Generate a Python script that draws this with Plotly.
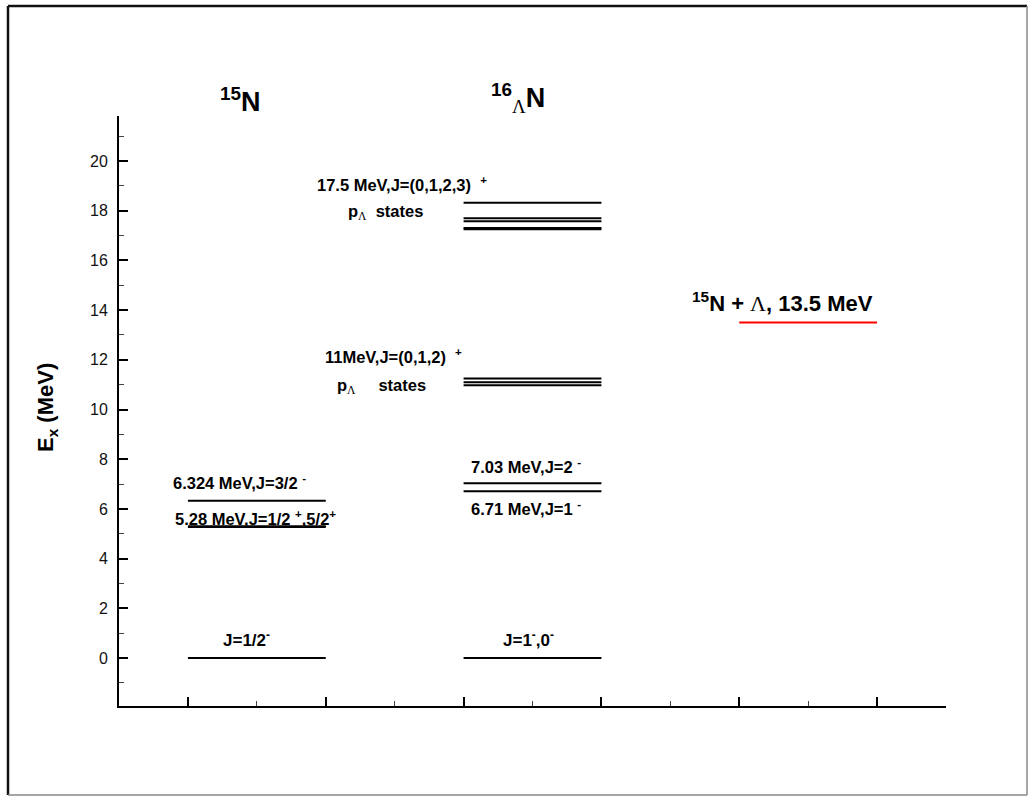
import plotly.graph_objects as go

# ---- data ----
n15_levels = [0.0, 5.27, 5.30, 6.324]                       # 15N levels (MeV)
hyp_levels = [0.0, 6.71, 7.03, 10.98, 11.10, 11.25,
              17.25, 17.30, 17.58, 17.70, 18.32]            # 16_Lambda N levels (MeV)
threshold_levels = [13.5]                                    # 15N + Lambda threshold
y_ticks = [0, 2, 4, 6, 8, 10, 12, 14, 16, 18, 20]
x_major = [1, 2, 3, 4, 5, 6]
x_minor = [1.5, 2.5, 3.5, 4.5, 5.5]

# column spans (x from, x to)
n15_span = (1, 2)
hyp_span = (3, 4)
thr_span = (5, 6)

W_FIG, H_FIG = 1036, 802
L, R, T, B = 119, 946, 116, 706
PW, PH = R - L, B - T


def segs(levels, span):
    xs, ys = [], []
    for v in levels:
        xs += [span[0], span[1], None]
        ys += [v, v, None]
    return xs, ys


fig = go.Figure()
for levels, span, color in [(n15_levels, n15_span, "black"),
                            (hyp_levels, hyp_span, "black"),
                            (threshold_levels, thr_span, "#ff0000")]:
    xs, ys = segs(levels, span)
    fig.add_trace(go.Scatter(x=xs, y=ys, mode="lines",
                             line=dict(color=color, width=2),
                             hoverinfo="skip", showlegend=False))


def px(xp, yp):
    return (xp - L) / PW, (B - yp) / PH


FONT = "Liberation Sans, Arial, sans-serif"
NARROW = "Liberation Sans Narrow, Arial Narrow, Liberation Sans, sans-serif"
annots = []


def ann(text, xp, yp, size, xanchor="center", yanchor="middle", angle=0,
        family=FONT):
    x, y = px(xp, yp)
    annots.append(dict(text="<b>%s</b>" % text,
                       x=x, y=y, xref="paper", yref="paper",
                       xanchor=xanchor, yanchor=yanchor, showarrow=False,
                       textangle=angle,
                       font=dict(family=family, size=size, color="black")))


LAM = "<span style=\"font-family:'Liberation Serif',serif;font-weight:normal\">Λ</span>"
NB = "\u00a0"

ann("<sup>15</sup>N", 240, 100, 27)
ann("<sup>16</sup><sub>" + LAM + "</sub>N", 518, 98, 27)
ann("17.5 MeV,J=(0,1,2,3) " + NB + "<sup>+</sup>", 402, 184, 16.5)
ann("p<sub>" + LAM + "</sub>" + NB * 2 + "states", 385, 212, 16.5)
ann("11MeV,J=(0,1,2) " + NB + "<sup>+</sup>", 393, 356, 16.5)
ann("p<sub>" + LAM + "</sub>" + NB * 5 + "states", 381, 386, 16.5)
ann("6.324 MeV,J=3/2 <sup>-</sup>", 308, 482, 16.5, xanchor="right")
ann("5.28 MeV,J=1/2 <sup>+</sup>,5/2<sup>+</sup>", 338, 518, 16.5, xanchor="right")
ann("7.03 MeV,J=2 <sup>-</sup>", 526, 466, 16.5)
ann("6.71 MeV,J=1 <sup>-</sup>", 526, 508, 16.5)
ann("J=1/2<sup>-</sup>", 246, 639, 17, family=NARROW)
ann("J=1<sup>-</sup>,0<sup>-</sup>", 528, 639, 17, family=NARROW)
ann("<sup>15</sup>N + " + LAM + ", 13.5 MeV", 782, 302, 22)
ann("E<sub>x</sub> (MeV)", 47, 408, 22, angle=-90)

# frame: dark left/top, lighter right/bottom
fx0, fy0 = px(8, 6)
fx1, fy1 = px(1027, 795)
frame = [
    dict(type="line", xref="paper", yref="paper", x0=fx0, y0=fy0, x1=fx0, y1=fy1,
         line=dict(color="#111", width=2.5)),
    dict(type="line", xref="paper", yref="paper", x0=fx0, y0=fy0, x1=fx1, y1=fy0,
         line=dict(color="#111", width=2.5)),
    dict(type="line", xref="paper", yref="paper", x0=fx1, y0=fy0, x1=fx1, y1=fy1,
         line=dict(color="#888", width=1.5)),
    dict(type="line", xref="paper", yref="paper", x0=fx0, y0=fy1, x1=fx1, y1=fy1,
         line=dict(color="#888", width=1.5)),
]

fig.update_layout(
    width=W_FIG, height=H_FIG,
    margin=dict(l=L, r=W_FIG - R, t=T, b=H_FIG - B, pad=0),
    paper_bgcolor="white", plot_bgcolor="white",
    showlegend=False,
    annotations=annots,
    shapes=frame,
    xaxis=dict(range=[0.5, 6.5], showgrid=False, zeroline=False,
               showline=True, linecolor="black", linewidth=2,
               ticks="inside", tickvals=x_major, ticklen=9, tickwidth=1.5,
               tickcolor="black", showticklabels=False,
               minor=dict(tickvals=x_minor, ticks="inside", ticklen=5,
                          tickwidth=1, tickcolor="#444")),
    yaxis=dict(range=[-1.93, 21.81], showgrid=False, zeroline=False,
               showline=True, linecolor="black", linewidth=2,
               ticks="inside", tickvals=y_ticks, ticktext=[str(v) for v in y_ticks],
               ticklen=9, tickwidth=1.5, tickcolor="black",
               ticklabelstandoff=6,
               tickfont=dict(family=FONT, size=16, color="#111"),
               minor=dict(dtick=1, tick0=0, ticks="inside", ticklen=5,
                          tickwidth=1, tickcolor="#444")),
)

fig.write_html("out.html")
